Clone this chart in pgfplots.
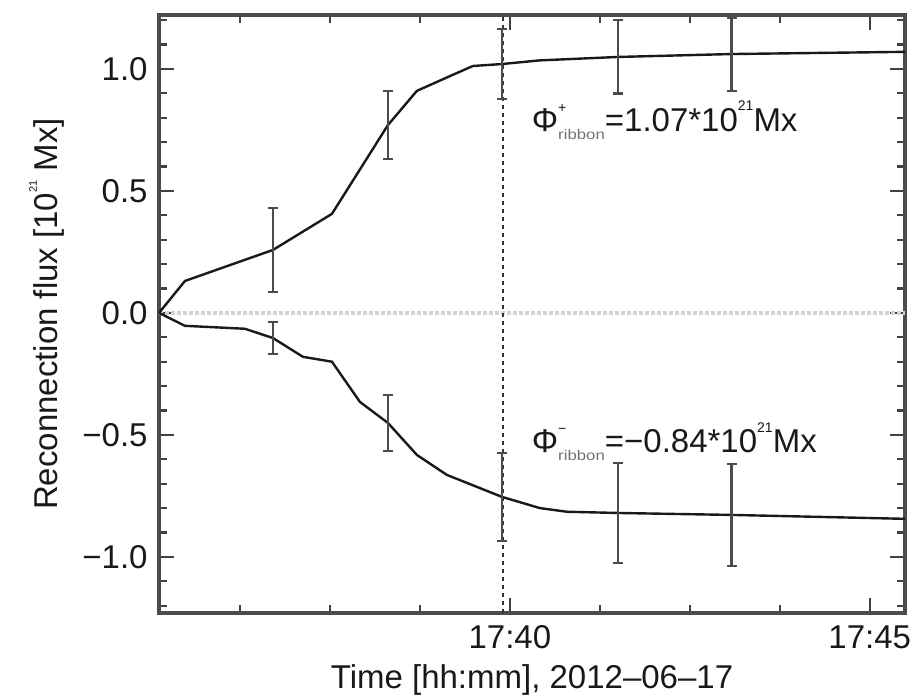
\documentclass[border=0pt]{standalone}
\usepackage{fontspec}
\setmainfont{Liberation Sans}
\usepackage{graphicx}
\usepackage{pgfplots}
\pgfplotsset{compat=1.18}
\newcommand{\tinys}[1]{{\fontsize{7}{7}\selectfont #1}}
\newcommand{\ribbon}{\raisebox{-0.45ex}{\textcolor{black!55}{\scalebox{1.2}[1]{\fontsize{7}{7}\selectfont ribbon}}}}
\begin{document}
\fontsize{16.5}{19}\selectfont
\begin{tikzpicture}
\begin{axis}[
  scale only axis, width=373pt, height=299pt,
  xmin=35.125, xmax=45.49, ymin=-1.23, ymax=1.221,
  xtick={40,45}, xticklabels={17:40,17:45},
  minor xtick={36.25,37.5,38.75,41.25,42.5,43.75},
  ytick={-1,-0.5,0,0.5,1}, yticklabels={−1.0,−0.5,0.0,0.5,1.0},
  minor ytick={-1.2,-1.1,-0.9,-0.8,-0.7,-0.6,-0.4,-0.3,-0.2,-0.1,0.1,0.2,0.3,0.4,0.6,0.7,0.8,0.9,1.1,1.2},
  tick align=inside, major tick length=7.5pt, minor tick length=4pt,
  every tick/.style={black!75, line width=1.1pt},
  axis line style={black!70, line width=1.6pt},
  tick label style={font=\fontsize{16.5}{19}\selectfont, text=black!90},
  xticklabel style={anchor=base, yshift=-17.5pt},
  every axis x label/.style={at={([yshift=-37.5pt]axis description cs:0.5,0)}, anchor=base, font=\fontsize{16.5}{19}\selectfont, text=black!90},
  every axis y label/.style={at={([xshift=-56pt]axis description cs:0,0.5)}, rotate=90, anchor=center, font=\fontsize{16.5}{19}\selectfont, text=black!90},
  xlabel={Time [hh:mm], 2012–06–17},
  ylabel={Reconnection flux [10\raisebox{1.2ex}{\fontsize{5.5}{6}\selectfont 21} Mx]},
  clip=true,
]
% zero line
\addplot[gray!35, line width=1.6pt, dash pattern=on 2pt off 1pt] coordinates {(35.125,0) (45.49,0)};
% vertical dotted line
\addplot[black!80, line width=1.1pt, dash pattern=on 2pt off 2pt] coordinates {(39.9,-1.23) (39.9,1.221)};
% positive ribbon flux
\addplot[black!90, line width=1.2pt] table {
x y
35.125 0
35.486 0.131
36.708 0.258
37.528 0.406
38.306 0.770
38.708 0.910
39.125 0.965
39.486 1.012
39.889 1.020
40.417 1.035
41.500 1.049
43.083 1.061
45.490 1.070
};
% negative ribbon flux
\addplot[black!90, line width=1.2pt] table {
x y
35.125 0
35.486 -0.053
36.319 -0.065
36.708 -0.103
37.125 -0.180
37.528 -0.200
37.917 -0.365
38.306 -0.451
38.708 -0.582
39.125 -0.664
39.889 -0.754
40.417 -0.800
40.792 -0.815
41.500 -0.820
43.083 -0.828
45.490 -0.844
};
% error bars
\addplot[draw=none, mark=none, error bars/.cd, y dir=both, y explicit,
  error bar style={black!70, line width=1.3pt},
  error mark options={rotate=90, mark size=2.5pt, black!70, line width=1.1pt}]
  table[x=x, y=y, y error=e] {
x y e
36.708 0.258 0.172
38.306 0.770 0.140
39.889 1.020 0.142
41.500 1.049 0.150
43.083 1.061 0.150
36.708 -0.103 0.065
38.306 -0.451 0.115
39.889 -0.754 0.180
41.500 -0.820 0.205
43.083 -0.828 0.210
};
\node[anchor=base west, inner sep=0, text=black!90] at (axis cs:40.3,0.742)
  {Φ\rlap{\raisebox{1.1ex}{\tinys{+}}}\ribbon=1.07*10\raisebox{1.2ex}{\tinys{21}}Mx};
\node[anchor=base west, inner sep=0, text=black!90] at (axis cs:40.3,-0.574)
  {Φ\rlap{\raisebox{1.1ex}{\tinys{−}}}\ribbon=−0.84*10\raisebox{1.2ex}{\tinys{21}}Mx};
\end{axis}
\pgfresetboundingbox
\path (-79.5pt,-42pt) rectangle (378.5pt,306.5pt);
\end{tikzpicture}
\end{document}
